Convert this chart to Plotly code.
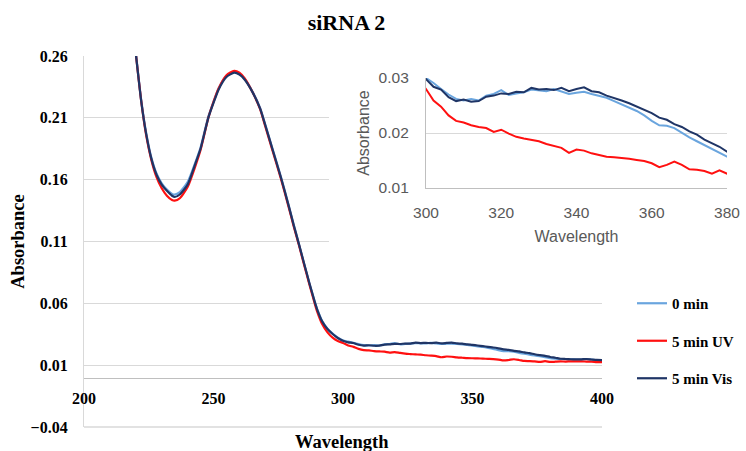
import plotly.graph_objects as go

# ---------------- data ----------------
wavelength = [215, 220, 222, 224, 226, 228, 230, 232, 234, 235, 237, 240, 243, 245, 248, 250,
              252, 255, 258, 260, 262, 265, 268, 270, 273, 276, 279, 281, 283, 285, 287, 289,
              290, 292, 294, 296, 298,
              300, 302, 304, 306, 308, 310, 312, 314, 316, 318, 320, 322, 324, 326, 328, 330,
              332, 334, 336, 338, 340, 342, 344, 346, 348, 350, 352, 354, 356, 358, 360, 362,
              364, 366, 368, 370, 372, 374, 376, 378, 380,
              382, 384, 386, 388, 390, 392, 394, 396, 398, 400]

abs_0min = [0.360, 0.263, 0.226, 0.198, 0.178, 0.165, 0.157, 0.152, 0.1485, 0.148, 0.150, 0.158,
            0.174, 0.186, 0.211, 0.223, 0.234, 0.244, 0.247, 0.2455, 0.2415, 0.2315, 0.218, 0.2045,
            0.1835, 0.1625, 0.1395, 0.1235, 0.108, 0.092, 0.0765, 0.0620,
            0.0555, 0.0455, 0.0395, 0.0355, 0.0322,
            0.0300, 0.0291, 0.0280, 0.0270, 0.0262, 0.0259, 0.0262, 0.0259, 0.0268, 0.0271, 0.0278,
            0.0269, 0.0272, 0.0274, 0.0279, 0.0277, 0.0276, 0.0280, 0.0276, 0.0271, 0.0273, 0.0275,
            0.0271, 0.0268, 0.0264, 0.0258, 0.0252, 0.0247, 0.0240, 0.0232, 0.0222, 0.0214, 0.0213,
            0.0209, 0.0200, 0.0192, 0.0185, 0.0178, 0.0172, 0.0165, 0.0157,
            0.0153, 0.0150, 0.0148, 0.0147, 0.0146, 0.0146, 0.0148, 0.0145, 0.0141, 0.0140]

abs_5min_uv = [0.360, 0.262, 0.225, 0.196, 0.176, 0.162, 0.153, 0.147, 0.1435, 0.143, 0.145, 0.154,
               0.171, 0.184, 0.210, 0.223, 0.234, 0.2445, 0.248, 0.2465, 0.242, 0.231, 0.217, 0.203,
               0.182, 0.161, 0.138, 0.122, 0.107, 0.091, 0.0755, 0.0605,
               0.0535, 0.0430, 0.0365, 0.0322, 0.0295,
               0.0280, 0.0259, 0.0248, 0.0232, 0.0222, 0.0219, 0.0214, 0.0211, 0.0209, 0.0202, 0.0206,
               0.0199, 0.0193, 0.0190, 0.0187, 0.0185, 0.0180, 0.0177, 0.0173, 0.0164, 0.0170, 0.0168,
               0.0163, 0.0160, 0.0157, 0.0156, 0.0155, 0.0153, 0.0151, 0.0149, 0.0145, 0.0138, 0.0142,
               0.0148, 0.0142, 0.0134, 0.0133, 0.0131, 0.0126, 0.0132, 0.0126,
               0.0128, 0.0130, 0.0129, 0.0131, 0.0130, 0.0131, 0.0129, 0.0128, 0.0125, 0.0124]

abs_5min_vis = [0.360, 0.262, 0.225, 0.197, 0.177, 0.164, 0.156, 0.151, 0.147, 0.146, 0.148, 0.156,
                0.173, 0.185, 0.210, 0.222, 0.233, 0.243, 0.2465, 0.245, 0.241, 0.231, 0.2175, 0.204,
                0.183, 0.162, 0.139, 0.123, 0.1077, 0.092, 0.0765, 0.0618,
                0.0552, 0.0452, 0.0392, 0.0352, 0.0320,
                0.0298, 0.0284, 0.0279, 0.0265, 0.0258, 0.0261, 0.0257, 0.0258, 0.0266, 0.0268, 0.0272,
                0.0271, 0.0275, 0.0274, 0.0282, 0.0279, 0.0280, 0.0278, 0.0282, 0.0276, 0.0280, 0.0283,
                0.0276, 0.0274, 0.0268, 0.0264, 0.0259, 0.0254, 0.0248, 0.0243, 0.0236, 0.0228, 0.0224,
                0.0216, 0.0211, 0.0203, 0.0197, 0.0188, 0.0181, 0.0175, 0.0166,
                0.0160, 0.0152, 0.0150, 0.0148, 0.0147, 0.0147, 0.0150, 0.0146, 0.0142, 0.0141]

series_names = ["0 min", "5 min UV", "5 min Vis"]
series_values = [abs_0min, abs_5min_uv, abs_5min_vis]
series_colors = ["#6AA5DE", "#FF1010", "#1F3566"]

main_x_ticks = [200, 250, 300, 350, 400]
main_y_ticks = [-0.04, 0.01, 0.06, 0.11, 0.16, 0.21, 0.26]
inset_x_ticks = [300, 320, 340, 360, 380]
inset_y_ticks = [0.01, 0.02, 0.03]

main_x_range = [200, 400]
main_y_range = [-0.04, 0.26]
inset_x_range = [300, 380]
inset_y_range = [0.01, 0.03]

# ---------------- figure ----------------
W, H = 746, 451
ml, mr, mt, mb = 84, 19, 56, 24
pw = W - ml - mr
ph = H - mt - mb
main_right_px = 602

serif = "Liberation Serif"
sans = "Liberation Sans"


def px_to_x(px):
    return main_x_range[0] + (px - ml) / (main_right_px - ml) * (main_x_range[1] - main_x_range[0])


def py_to_y(py):
    return main_y_range[1] - (py - mt) / ph * (main_y_range[1] - main_y_range[0])


fig = go.Figure()

# white backdrop behind the inset chart (hides the main gridlines there)
mx0, mx1 = px_to_x(329), px_to_x(746)
my0, my1 = py_to_y(252), py_to_y(58)
fig.add_trace(go.Scatter(x=[mx0, mx1, mx1, mx0, mx0], y=[my0, my0, my1, my1, my0],
                         mode="lines", fill="toself", fillcolor="white",
                         line=dict(width=0, color="white"), hoverinfo="skip",
                         showlegend=False, xaxis="x", yaxis="y"))

for name, vals, col in zip(series_names, series_values, series_colors):
    fig.add_trace(go.Scatter(
        x=wavelength, y=vals, name=name, mode="lines",
        line=dict(color=col, width=2.2, shape="spline", smoothing=0.6),
        legendgroup=name, xaxis="x", yaxis="y"))

for name, vals, col in zip(series_names, series_values, series_colors):
    fig.add_trace(go.Scatter(
        x=wavelength, y=vals, name=name, mode="lines",
        line=dict(color=col, width=2),
        legendgroup=name, showlegend=False, xaxis="x2", yaxis="y2"))

zero_pos = (0 - main_y_range[0]) / (main_y_range[1] - main_y_range[0])
main_x_right = (main_right_px - ml) / pw

fig.update_layout(
    width=W, height=H,
    margin=dict(l=ml, r=mr, t=mt, b=mb, autoexpand=False),
    paper_bgcolor="white", plot_bgcolor="white",
    title=dict(text="siRNA 2", x=346.5 / W, xref="container", xanchor="center",
               y=1 - 22 / H, yref="container", yanchor="middle",
               font=dict(family=serif, size=22, color="#000000", weight="bold")),
    xaxis=dict(domain=[0, main_x_right], range=main_x_range, tickvals=main_x_ticks,
               anchor="free", position=zero_pos, automargin=False,
               showline=True, linecolor="#BFBFBF", linewidth=1.3,
               showgrid=False, zeroline=False,
               ticks="outside", ticklen=6, tickcolor="rgba(0,0,0,0)",
               tickfont=dict(family=serif, size=16, color="#000000", weight="bold")),
    yaxis=dict(domain=[0, 1], range=main_y_range, tickvals=main_y_ticks, tickformat=".2f",
               anchor="x", automargin=False, showline=True, linecolor="#D9D9D9", linewidth=1.3,
               showgrid=True, gridcolor="#D9D9D9", gridwidth=1.3, zeroline=False,
               ticks="outside", ticklen=12, tickcolor="rgba(0,0,0,0)",
               tickfont=dict(family=serif, size=16, color="#000000", weight="bold"),
               title=dict(text="Absorbance", standoff=1,
                          font=dict(family=serif, size=18.5, color="#000000", weight="bold"))),
    xaxis2=dict(domain=[(426 - ml) / pw, 1], range=inset_x_range, tickvals=inset_x_ticks,
                anchor="y2", automargin=False, showline=True, linecolor="#BFBFBF", linewidth=1.3,
                showgrid=False, zeroline=False,
                ticks="outside", ticklen=10, tickcolor="rgba(0,0,0,0)",
                tickfont=dict(family=sans, size=15.5, color="#595959"),
                title=dict(text="Wavelength", standoff=11,
                           font=dict(family=sans, size=16, color="#595959"))),
    yaxis2=dict(domain=[(mt + ph - 188) / ph, (mt + ph - 78) / ph],
                range=inset_y_range, tickvals=inset_y_ticks, tickformat=".2f",
                anchor="x2", automargin=False, showline=True, linecolor="#BFBFBF", linewidth=1.3,
                showgrid=True, gridcolor="#D9D9D9", gridwidth=1.3, zeroline=False,
                ticks="outside", ticklen=13, tickcolor="rgba(0,0,0,0)",
                tickfont=dict(family=sans, size=15.5, color="#595959"),
                title=dict(text="Absorbance", standoff=4,
                           font=dict(family=sans, size=16, color="#595959"))),
    legend=dict(x=(632 - ml) / pw, xanchor="left", y=(mt + ph - 287) / ph, yanchor="top",
                traceorder="grouped", tracegroupgap=15,
                font=dict(family=serif, size=15, color="#000000", weight="bold"),
                bgcolor="rgba(0,0,0,0)"),
    annotations=[dict(text="Wavelength", xref="paper", yref="paper",
                      x=(341.5 - ml) / pw, y=(mt + ph - 441.5) / ph,
                      xanchor="center", yanchor="middle", showarrow=False,
                      font=dict(family=serif, size=18.5, color="#000000", weight="bold"))],
    shapes=[dict(type="line", xref="x domain", yref="y domain", layer="above",
                 x0=0, x1=1, y0=0, y1=0, line=dict(color="#D9D9D9", width=1.3))],
)

fig.write_html("out.html")
